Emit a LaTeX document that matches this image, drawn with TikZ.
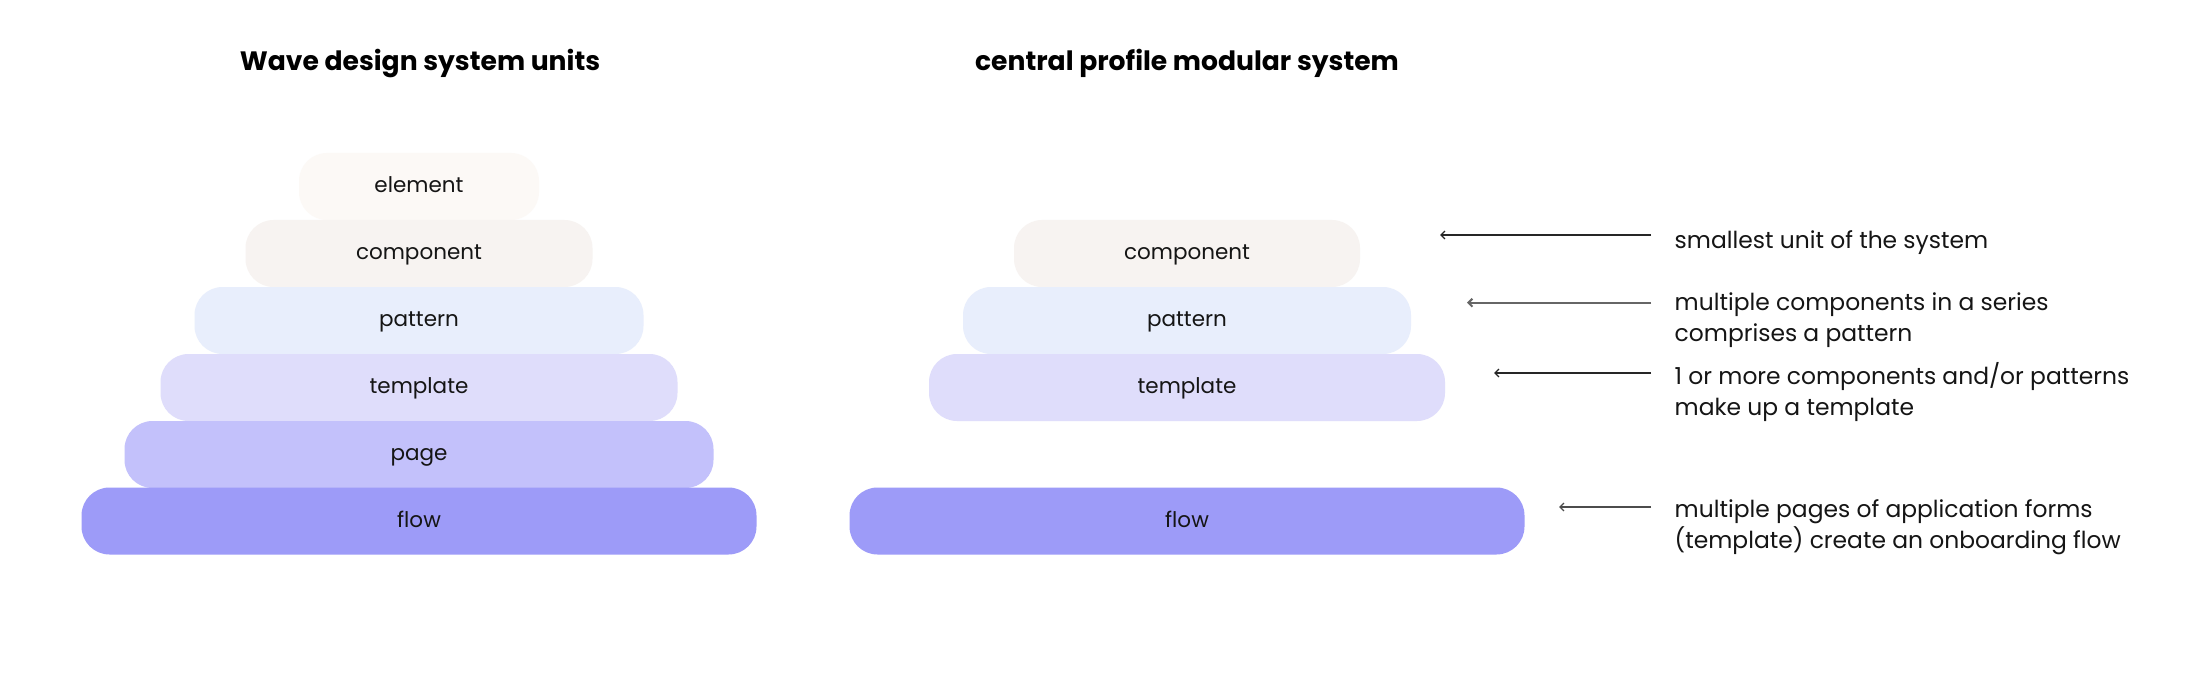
\documentclass[tikz,border=0pt]{standalone}
\usepackage{fontspec}
\setmainfont{Poppins}
\usetikzlibrary{arrows.meta}
\definecolor{cElement}{HTML}{FCF9F6}
\definecolor{cComponent}{HTML}{F7F3F1}
\definecolor{cPattern}{HTML}{E8EEFC}
\definecolor{cTemplate}{HTML}{DFDDFB}
\definecolor{cPage}{HTML}{C3C1FB}
\definecolor{cFlow}{HTML}{9D9BF8}
\definecolor{cText}{HTML}{151515}
\tikzset{
  unitbox/.style={rectangle, rounded corners=28pt, inner sep=0pt, minimum height=67pt,
    text=cText, font=\fontsize{21.5}{26}\selectfont, text height=12pt, text depth=0pt},
  titletext/.style={font=\fontsize{26.6}{32}\selectfont\bfseries, text=black, anchor=base, inner sep=0pt},
  desctext/.style={font=\fontsize{23.4}{31}\selectfont, text=cText, anchor=base west, align=left, inner sep=0pt},
  pointer/.style={-{Straight Barb[length=4pt,width=8pt]}, line width=1.3pt, draw=black!85},
}
\begin{document}
\begin{tikzpicture}[x=1pt,y=-1pt]
\useasboundingbox (0,0) rectangle (2188,687);
\fill[white] (0,0) rectangle (2188,687);
% left pyramid
\node[titletext] (t1) at (420,70.5) {Wave design system units};
\node[unitbox, fill=cElement, minimum width=240pt] (le) at (419,186.5) {element};
\node[unitbox, fill=cComponent, minimum width=347pt] (lc) at (419,253.5) {component};
\node[unitbox, fill=cPattern, minimum width=449pt] (lp) at (419,320.5) {pattern};
\node[unitbox, fill=cTemplate, minimum width=517pt] (lt) at (419,387.5) {template};
\node[unitbox, fill=cPage, minimum width=589pt] (lg) at (419,454.5) {page};
\node[unitbox, fill=cFlow, minimum width=675pt] (lf) at (419,521) {flow};
% right pyramid
\node[titletext] (t2) at (1187,70.5) {central profile modular system};
\node[unitbox, fill=cComponent, minimum width=346pt] (rc) at (1187,253.5) {component};
\node[unitbox, fill=cPattern, minimum width=448pt] (rp) at (1187,320.5) {pattern};
\node[unitbox, fill=cTemplate, minimum width=516pt] (rt) at (1187,387.5) {template};
\node[unitbox, fill=cFlow, minimum width=675pt] (rf) at (1187,521) {flow};
% descriptions (base anchor = baseline of last line)
\node[desctext] (d1) at (1674.5,248) {smallest unit of the system};
\node[desctext] (d2) at (1674.5,341.5) {multiple components in a series\\comprises a pattern};
\node[desctext] (d3) at (1674.5,415) {1 or more components and/or patterns\\make up a template};
\node[desctext] (d4) at (1674.5,548) {multiple pages of application forms\\(template) create an onboarding flow};
% arrow coordinates
\coordinate (a1s) at (1651,235); \coordinate (a1e) at (1440,235);
\coordinate (a2s) at (1651,302.7); \coordinate (a2e) at (1467,302.7);
\coordinate (a3s) at (1651,373); \coordinate (a3e) at (1494,373);
\coordinate (a4s) at (1651,507); \coordinate (a4e) at (1559,507);
\draw[pointer] (a1s) -- (a1e);
\draw[pointer, line width=2pt, draw=black!60] (a2s) -- (a2e);
\draw[pointer] (a3s) -- (a3e);
\draw[pointer, draw=black!70] (a4s) -- (a4e);
\end{tikzpicture}
\end{document}
